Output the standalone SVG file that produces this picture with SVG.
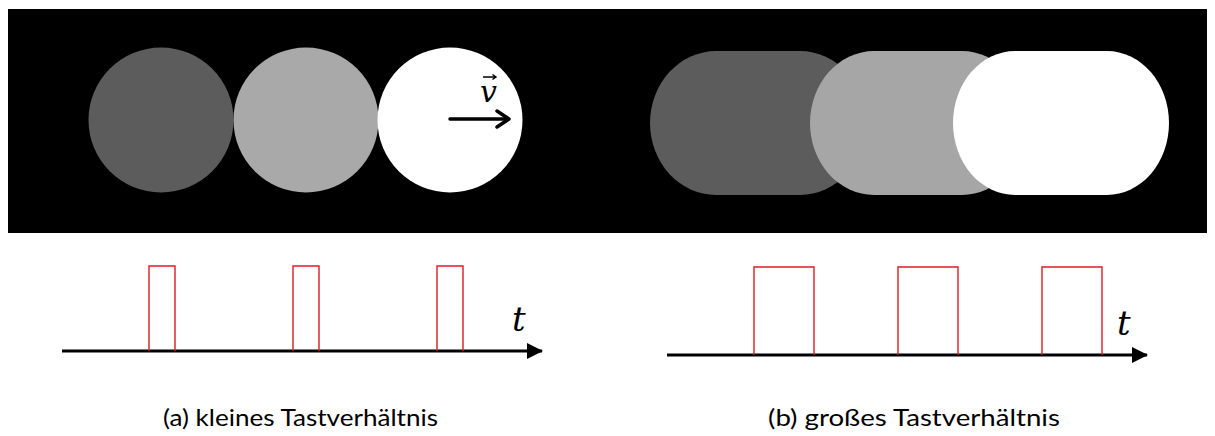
<svg xmlns="http://www.w3.org/2000/svg" width="1215" height="436" viewBox="0 0 1215 436">
  <defs>
    <style>
      .axis { stroke: #000; stroke-width: 3; fill: none; }
      .pulse { stroke: #dc1c22; stroke-width: 1.4; fill: none; }
      .cap { font-family: Lato, "Open Sans", sans-serif; font-size: 23px; fill: #000; }
      .math { font-family: "DejaVu Serif", serif; font-style: italic; fill: #000; }
    </style>
    <marker id="tri" viewBox="0 0 16 16" refX="15" refY="8" markerWidth="16" markerHeight="16" markerUnits="userSpaceOnUse" orient="auto">
      <path d="M0,0 L16,8 L0,16 Z" fill="#000"/>
    </marker>
    <filter id="soft" x="-5%" y="-5%" width="110%" height="110%">
      <feGaussianBlur stdDeviation="0.5"/>
    </filter>
  </defs>

  <rect id="panel" x="8" y="9" width="1199" height="224" fill="#000"/>

  <g id="circles-a">
    <circle id="circle-a1" cx="161" cy="120" r="72.5" fill="#5c5c5c"/>
    <circle id="circle-a2" cx="306" cy="120" r="72.5" fill="#a9a9a9"/>
    <circle id="circle-a3" cx="450" cy="120" r="72.5" fill="#ffffff"/>
  </g>

  <g id="velocity">
    <path d="M450,119 L508,119" stroke="#000" stroke-width="3.5" stroke-linecap="round" fill="none"/>
    <path d="M497,111 L509,119 L497,127" stroke="#000" stroke-width="3.5" stroke-linecap="round" stroke-linejoin="round" fill="none"/>
    <text class="math" x="480" y="102" font-size="30">v</text>
    <path d="M483,77 L496,77 M492.5,74.5 L496,77 L492.5,79.5" stroke="#000" stroke-width="1.4" fill="none"/>
  </g>

  <g id="capsules-b" filter="url(#soft)">
    <rect id="capsule-b1" x="650" y="51" width="216" height="144" rx="66" ry="72" fill="#5b5b5b"/>
    <rect id="capsule-b2" x="810" y="51" width="216" height="144" rx="64" ry="72" fill="#a6a6a6"/>
    <rect id="capsule-b3" x="953" y="51" width="216" height="144" rx="62" ry="72" fill="#ffffff"/>
  </g>

  <g id="connectors">
    <path id="axis-a" class="axis" d="M62,351 L542,351" marker-end="url(#tri)"/>
    <path id="axis-b" class="axis" d="M667,355 L1147,355" marker-end="url(#tri)"/>
  </g>

  <g id="pulses-a">
    <path class="pulse" d="M149,351 L149,266 L175,266 L175,351"/>
    <path class="pulse" d="M293,351 L293,266 L319,266 L319,351"/>
    <path class="pulse" d="M437,351 L437,266 L463,266 L463,351"/>
  </g>
  <g id="pulses-b">
    <path class="pulse" d="M754,355 L754,267 L814,267 L814,355"/>
    <path class="pulse" d="M898,355 L898,267 L958,267 L958,355"/>
    <path class="pulse" d="M1042,355 L1042,267 L1102,267 L1102,355"/>
  </g>

  <g id="labels">
    <text class="math" x="512" y="331" font-size="34">t</text>
    <text class="math" x="1117" y="335" font-size="34">t</text>
    <text class="cap" x="163" y="426" textLength="275" lengthAdjust="spacingAndGlyphs">(a) kleines Tastverhältnis</text>
    <text class="cap" x="768" y="426" textLength="292" lengthAdjust="spacingAndGlyphs">(b) großes Tastverhältnis</text>
  </g>
</svg>
